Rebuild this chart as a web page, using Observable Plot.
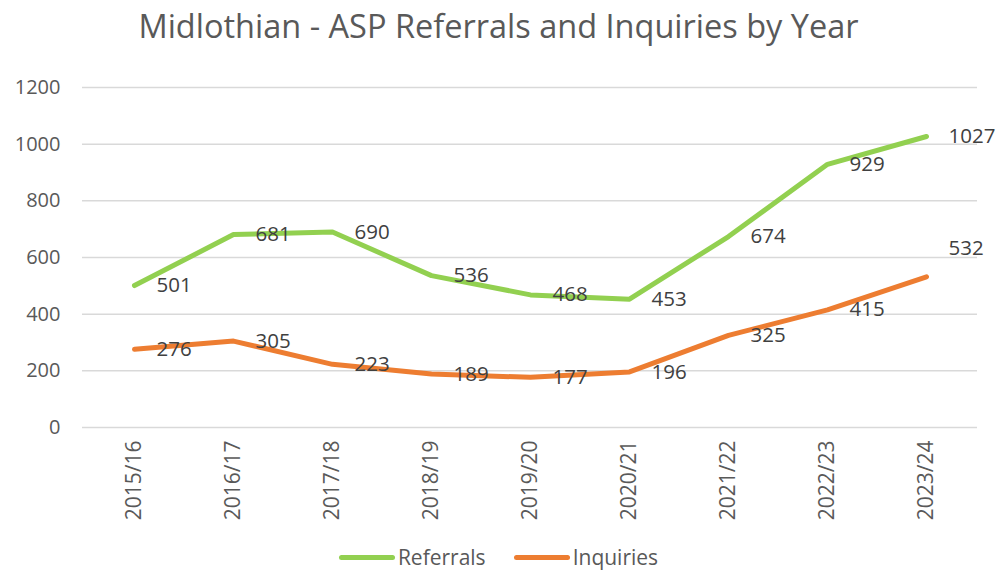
<!DOCTYPE html>
<html>
<head>
<meta charset="utf-8">
<script src="https://cdn.jsdelivr.net/npm/d3@7"></script>
<script src="https://cdn.jsdelivr.net/npm/@observablehq/plot@0.6"></script>
<style>
  html, body { margin: 0; padding: 0; background: #fff; }
  body { width: 997px; height: 573px; overflow: hidden; font-family: "Open Sans", sans-serif; }
  #title { height: 62px; text-align: center; color: #595959; font-size: 32.5px; line-height: 62px; margin-top: -5px; margin-bottom: 5px; white-space: nowrap; }
  #legend { display: flex; justify-content: center; align-items: center; gap: 28px; color: #595959; font-size: 21px; height: 26px; line-height: 26px; margin-top: -1px; }
  .sw { display: inline-flex; align-items: center; gap: 3px; }
  .sw i { display: inline-block; width: 56px; height: 5px; border-radius: 3px; }
</style>
</head>
<body>
<div id="title">Midlothian - ASP Referrals and Inquiries by Year</div>
<div id="chart"></div>
<div id="legend"></div>
<script>
const years = ["2015/16","2016/17","2017/18","2018/19","2019/20","2020/21","2021/22","2022/23","2023/24"];
const referrals = [501, 681, 690, 536, 468, 453, 674, 929, 1027];
const inquiries = [276, 305, 223, 189, 177, 196, 325, 415, 532];
const yTicks = [0, 200, 400, 600, 800, 1000, 1200];
const seriesNames = ["Referrals", "Inquiries"];
const seriesColors = ["#92d050", "#ed7d31"];

const rows = [];
years.forEach((yr, i) => {
  rows.push({year: yr, series: "Referrals", value: referrals[i]});
  rows.push({year: yr, series: "Inquiries", value: inquiries[i]});
});
// label of last Inquiries point sits above the point
const isAbove = d => d.series === "Inquiries" && d.year === "2023/24";

const chart = Plot.plot({
  width: 997,
  height: 483,
  marginTop: 25,
  marginBottom: 118,
  marginLeft: 82,
  marginRight: 20,
  style: {fontFamily: "Open Sans, sans-serif", color: "#595959", background: "#fff"},
  x: {type: "point", domain: years, padding: 0.5, label: null},
  y: {domain: [0, 1200], label: null},
  color: {domain: seriesNames, range: seriesColors},
  marks: [
    Plot.ruleY(yTicks, {stroke: "#d9d9d9", strokeWidth: 1.5}),
    Plot.axisY({ticks: yTicks, tickFormat: d => String(d), tickSize: 0, tickPadding: 22, fontSize: 20, fill: "#595959", label: null}),
    Plot.axisX({tickSize: 0, tickPadding: 13, tickRotate: -90, fontSize: 21, fill: "#595959", label: null}),
    Plot.line(rows, {x: "year", y: "value", z: "series", stroke: "series", strokeWidth: 5, strokeLinecap: "round", strokeLinejoin: "round"}),
    Plot.text(rows.filter(d => !isAbove(d)), {x: "year", y: "value", text: d => String(d.value), dx: 22, textAnchor: "start", fontSize: 20.5, fill: "#404040"}),
    Plot.text(rows.filter(isAbove), {x: "year", y: "value", text: d => String(d.value), dx: 22, dy: -28, textAnchor: "start", fontSize: 20.5, fill: "#404040"})
  ]
});
document.getElementById("chart").appendChild(chart);

const legend = document.getElementById("legend");
seriesNames.forEach((n, i) => {
  const s = document.createElement("span");
  s.className = "sw";
  s.innerHTML = `<i style="background:${seriesColors[i]}"></i>${n}`;
  legend.appendChild(s);
});
</script>
</body>
</html>
